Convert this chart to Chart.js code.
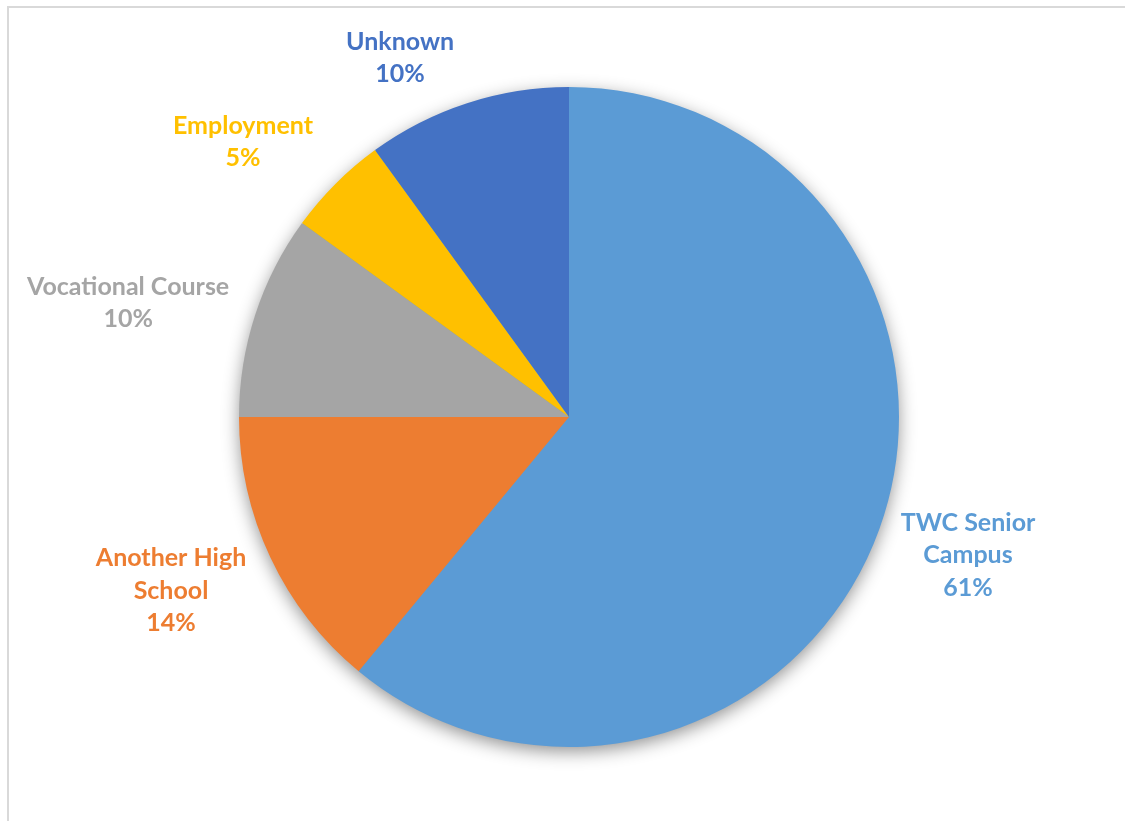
<!DOCTYPE html>
<html><head><meta charset="utf-8">
<script src="https://cdn.jsdelivr.net/npm/chart.js@4/dist/chart.umd.min.js"></script>
<style>html,body{margin:0;padding:0;background:#fff;overflow:hidden}#wrap{position:relative;width:1125px;height:821px}</style>
</head><body><div id="wrap"><canvas id="c" width="1125" height="821"></canvas></div>
<script>
const categories = ["TWC Senior Campus", "Another High School", "Vocational Course", "Employment", "Unknown"];
const values = [61, 14, 10, 5, 10];
const colors = ["#5B9BD5", "#ED7D31", "#A5A5A5", "#FFC000", "#4472C4"];
const labelLines = [["TWC Senior", "Campus"], ["Another High", "School"], ["Vocational Course"], ["Employment"], ["Unknown"]];
// label block centres, relative to pie centre, in units of radius
const labelOffsets = [[1.209, 0.418], [-1.206, 0.527], [-1.336, -0.346], [-0.988, -0.833], [-0.512, -1.088]];

const FONT = 'bold 25px Lato, "Open Sans", sans-serif';
const LINE_H = 32.5;

const framePlugin = {
  id: 'frame',
  beforeDraw(chart) {
    const ctx = chart.ctx;
    ctx.save();
    ctx.fillStyle = '#fff';
    ctx.fillRect(0, 0, chart.width, chart.height);
    ctx.strokeStyle = '#d9d9d9';
    ctx.lineWidth = 2;
    ctx.strokeRect(8, 7, chart.width + 20, chart.height + 20);
    ctx.restore();
  },
  beforeDatasetsDraw(chart) {
    const arc = chart.getDatasetMeta(0).data[0];
    if (!arc) return;
    const ctx = chart.ctx;
    ctx.save();
    ctx.shadowColor = 'rgba(0,0,0,0.45)';
    ctx.shadowBlur = 18;
    ctx.shadowOffsetY = 5;
    ctx.fillStyle = colors[0];
    ctx.beginPath();
    ctx.arc(arc.x, arc.y, arc.outerRadius - 1, 0, Math.PI * 2);
    ctx.fill();
    ctx.restore();
  },
  afterDatasetsDraw(chart) {
    const meta = chart.getDatasetMeta(0);
    const ctx = chart.ctx;
    ctx.save();
    ctx.font = FONT;
    ctx.textAlign = 'center';
    ctx.textBaseline = 'middle';
    meta.data.forEach((arc, i) => {
      const r = arc.outerRadius;
      const cx = arc.x + labelOffsets[i][0] * r;
      const cy = arc.y + labelOffsets[i][1] * r;
      const lines = labelLines[i].concat([values[i] + '%']);
      const startY = cy - (lines.length - 1) * LINE_H / 2;
      ctx.fillStyle = colors[i];
      lines.forEach((t, k) => ctx.fillText(t, cx, startY + k * LINE_H));
    });
    ctx.restore();
  }
};

new Chart(document.getElementById('c'), {
  type: 'pie',
  data: {
    labels: categories,
    datasets: [{
      data: values,
      backgroundColor: colors,
      borderWidth: 0
    }]
  },
  options: {
    responsive: false,
    animation: false,
    layout: { padding: { top: 87, bottom: 74, left: 13, right: 0 } },
    plugins: { legend: { display: false }, tooltip: { enabled: false } }
  },
  plugins: [framePlugin]
});
</script></body></html>
